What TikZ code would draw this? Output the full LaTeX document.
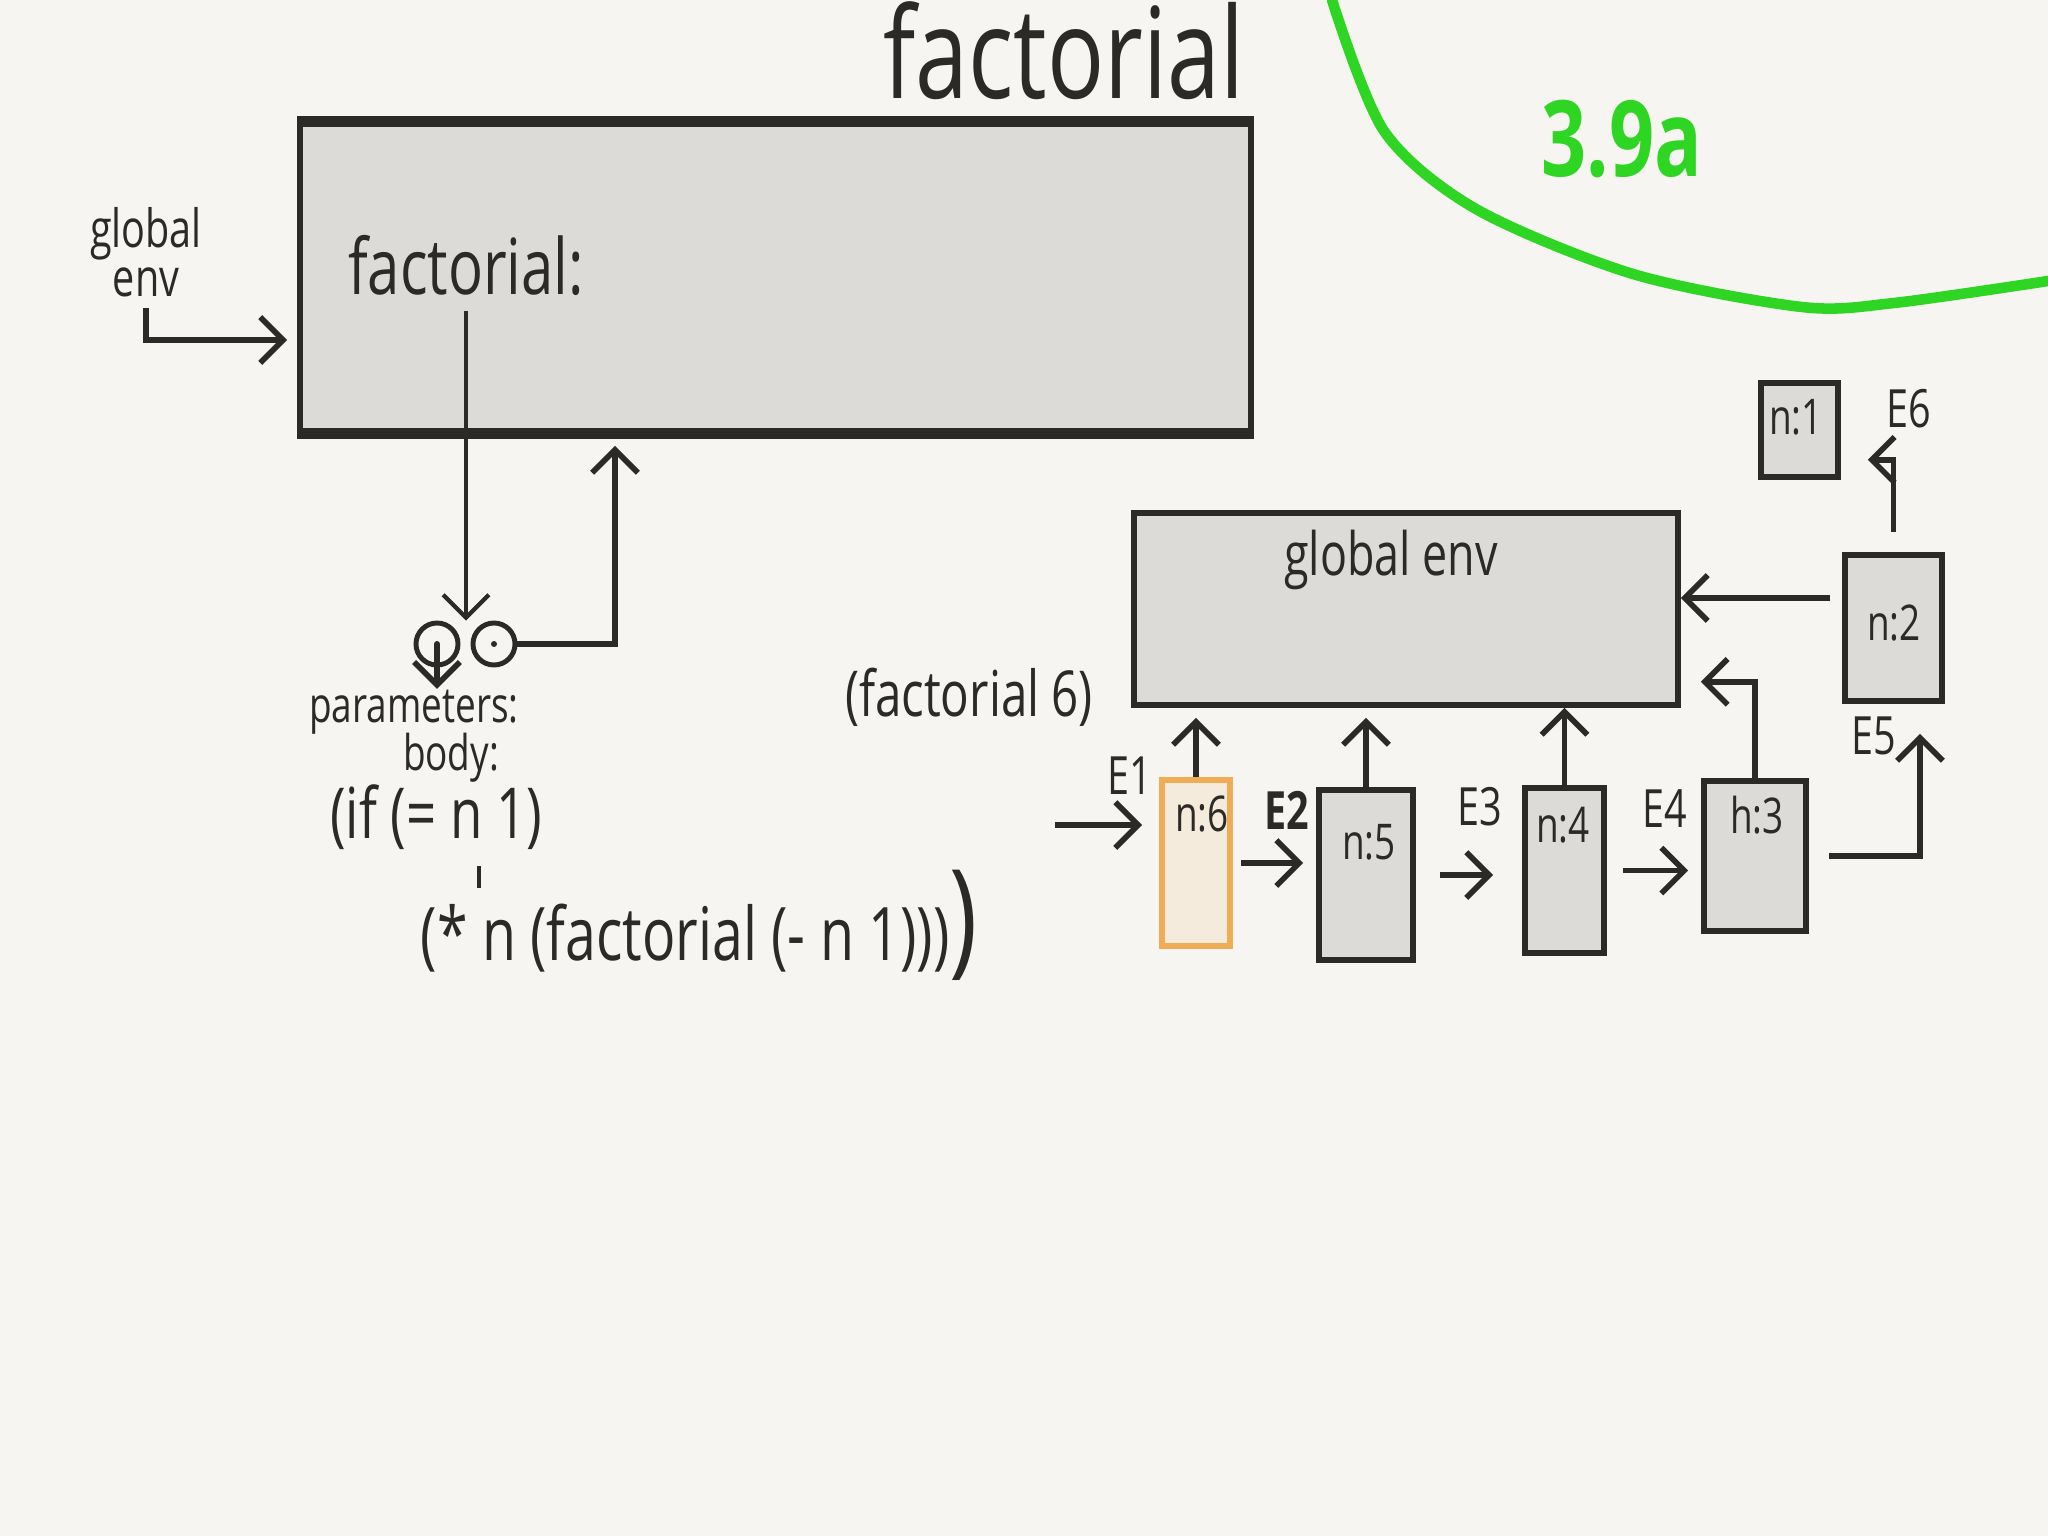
\documentclass[tikz,border=0pt]{standalone}
\usepackage{fontspec}
\setmainfont{Open Sans}[FakeStretch=0.75]
\usepackage{tikz}
\usetikzlibrary{arrows.meta,positioning,fit}
\definecolor{paper}{RGB}{246,245,241}
\definecolor{ink}{RGB}{43,42,39}
\definecolor{framefill}{RGB}{220,219,215}
\definecolor{callorange}{RGB}{240,172,85}
\definecolor{callfill}{RGB}{245,235,220}
\definecolor{marker}{RGB}{46,214,35}

\begin{document}
\begin{tikzpicture}[
    x=0.01cm, y=-0.01cm,
    txt/.style={font=\fontsize{#1}{#1}\selectfont, text=ink, inner sep=0pt, anchor=base},
    envbox/.style={draw=ink, fill=framefill, line width=1.6pt, inner sep=0pt},
    callbox/.style={draw=callorange, fill=callfill, line width=1.6pt, inner sep=0pt},
    ptrcirc/.style={circle, draw=ink, line width=1.4pt, minimum size=0.42cm, inner sep=0pt},
    arrow/.style={-{Straight Barb[length=6.5pt,width=13pt]}, draw=ink, line width=1.6pt}
  ]
    \fill[paper] (0,0) rectangle (2048,1536);
    \useasboundingbox (0,0) rectangle (2048,1536);

    % procedure object
    \node[txt=36] (title) at (1064,98) {factorial};
    \node[envbox, fit={(300,124) (1251,431)}] (factbox) {};
    \draw[ink, line width=2.8pt] (factbox.north west) -- (factbox.north east);
    \draw[ink, line width=2.8pt] (factbox.south west) -- (factbox.south east);
    \node[txt=22] (fname) at (466,294) {factorial:};
    \node[txt=15, anchor=center, align=center, font=\fontsize{15}{14}\selectfont] (genvl) at (146,252) {global\\env};
    \node[ptrcirc] (lcirc) at (437,644) {};
    \node[ptrcirc] (rcirc) at (494,644) {};
    \fill[ink] (lcirc.center) circle (0.03cm);
    \fill[ink] (rcirc.center) circle (0.03cm);
    \node[txt=14] (params) at (414,722) {parameters:};
    \node[txt=14] (body) at (451,770) {body:};
    \node[txt=20] (ifn) at (436,838) {(if (= n 1)};
    \node[txt=21, anchor=base west] (mul) at (420,960) {(* n (factorial (- n 1)))\fontsize{36}{36}\selectfont)};
    \coordinate (inlevel) at (0,340);
    \coordinate (envret) at (615,0);
    \coordinate (tick) at (479,866);

    \draw[arrow, shorten <=0.1cm, shorten >=0.1cm] (genvl.south) |- (factbox.west |- inlevel);
    \draw[arrow, line width=1.2pt, shorten <=0.15cm] (fname.south) -- (fname.south |- lcirc.north);
    \draw[arrow] (lcirc.center) -- (lcirc.center |- params.north);
    \draw[arrow, shorten >=0.12cm] (rcirc.east) -- (rcirc.east -| envret) -- (envret |- factbox.south);
    \draw[ink, line width=1pt] (tick) -- ++(0,22);

    % environments of (factorial 6)
    \node[txt=30, text=marker, font=\fontsize{30}{30}\selectfont\bfseries] (tag) at (1622,176) {3.9a};
    \draw[marker, line width=3pt, line cap=round] plot[smooth] coordinates
      {(1332,0) (1384,131) (1476,209) (1633,274) (1802,307) (1894,303) (2048,281)};
    \node[txt=18] (callexp) at (969,716) {(factorial 6)};
    \node[envbox, fit={(1134,513) (1678,705)}] (genv) {};
    \node[txt=17] (genvname) at (1391,575) {global env};
    \node[callbox, fit={(1162,780) (1230,946)}] (e1) {};
    \node[envbox, fit={(1319,790) (1413,960)}] (e2) {};
    \node[envbox, fit={(1525,788) (1604,953)}] (e3) {};
    \node[envbox, fit={(1704,781) (1806,931)}] (e4) {};
    \node[envbox, fit={(1845,555) (1942,701)}] (e5) {};
    \node[envbox, fit={(1761,383) (1838,477)}] (e6) {};
    \node[txt=14] (n6) at (1202,831) {n:6};
    \node[txt=14] (n5) at (1369,859) {n:5};
    \node[txt=14] (n4) at (1563,842) {n:4};
    \node[txt=14] (n3) at (1757,833) {h:3};
    \node[txt=14] (n2) at (1894,640) {n:2};
    \node[txt=14] (n1) at (1796,434) {n:1};
    \node[txt=15] (E1) at (1130,794) {E1};
    \node[txt=15, font=\fontsize{15}{15}\selectfont\bfseries] (E2) at (1287,829) {E2};
    \node[txt=15] (E3) at (1480,825) {E3};
    \node[txt=15] (E4) at (1665,827) {E4};
    \node[txt=15] (E5) at (1874,754) {E5};
    \node[txt=15] (E6) at (1909,427) {E6};
    \coordinate (callin) at (1055,825);
    \coordinate (e5in) at (1920,0);
    \coordinate (e5out) at ([yshift=0.3cm]e5.west);

    \draw[arrow, shorten >=0.17cm] (callin) -- (e1.west |- callin);
    \draw[arrow, shorten >=0.1cm] (e1.north) -- (e1.north |- genv.south);
    \draw[arrow, shorten >=0.1cm] (e2.north) -- (e2.north |- genv.south);
    \draw[arrow] (e3.north) -- (e3.north |- genv.south);
    \draw[arrow, shorten <=0.08cm, shorten >=0.13cm] (e1.east) -- (e1.east -| e2.west);
    \draw[arrow, shorten <=0.24cm, shorten >=0.29cm] (e2.east) -- (e2.east -| e3.west);
    \draw[arrow, shorten <=0.16cm, shorten >=0.13cm] (e3.east) -- (e3.east -| e4.west);
    \draw[arrow, shorten >=0.2cm] (e4.north) |- ([yshift=0.26cm]genv.south east);
    \draw[arrow, shorten <=0.2cm, shorten >=0.3cm] (e4.east) -| (e5.south -| e5in);
    \draw[arrow, shorten <=0.12cm] (e5out) -- (e5out -| genv.east);
    \draw[arrow, shorten <=0.2cm, shorten >=0.27cm] (e5.north) |- ([yshift=0.2cm]e6.south east);
\end{tikzpicture}
\end{document}
